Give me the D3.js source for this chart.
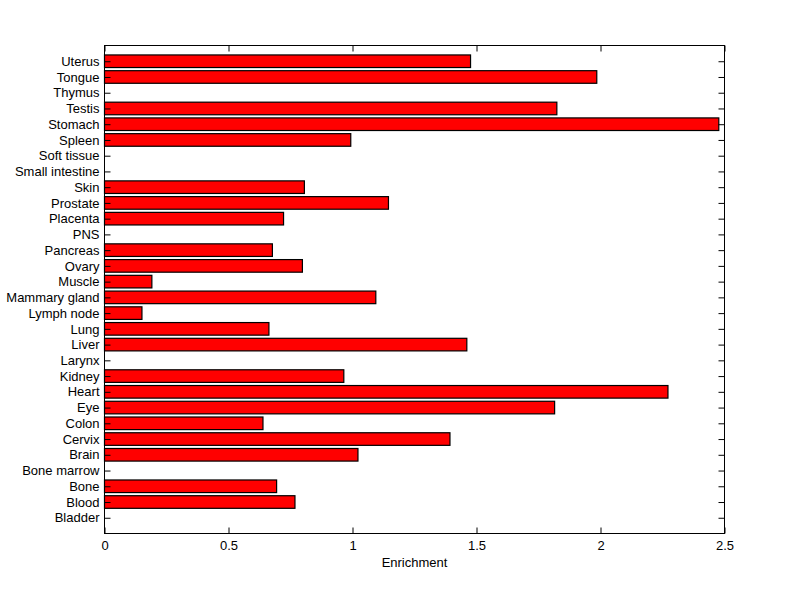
<!DOCTYPE html>
<html><head><meta charset="utf-8">
<script src="https://cdn.jsdelivr.net/npm/d3@7"></script>
<style>body{margin:0;background:#fff}svg{display:block}text{font-family:"Liberation Sans",Arial,sans-serif;font-size:13px;fill:#000}</style>
</head><body>
<svg id="c" width="800" height="599"></svg>
<script>
const categories = ["Bladder","Blood","Bone","Bone marrow","Brain","Cervix","Colon","Eye","Heart","Kidney","Larynx","Liver","Lung","Lymph node","Mammary gland","Muscle","Ovary","Pancreas","PNS","Placenta","Prostate","Skin","Small intestine","Soft tissue","Spleen","Stomach","Testis","Thymus","Tongue","Uterus"];
const values = [0,0.768,0.694,0,1.022,1.393,0.639,1.815,2.272,0.965,0,1.461,0.663,0.151,1.094,0.191,0.798,0.677,0,0.722,1.145,0.806,0,0,0.993,2.477,1.824,0,1.985,1.476];
const xTicks = [0,0.5,1,1.5,2,2.5];
const xLabel = "Enrichment";

const svg = d3.select("#c");
const L=104.5, R=724.5, T=45.5, B=533.5;
const x = d3.scaleLinear().domain([0,2.5]).range([L,R]);
const y = d3.scaleLinear().domain([0,categories.length+1]).range([B,T]);
const bw = 0.8*(y(0)-y(1));
const tl = 6;
const FONT = '"Liberation Sans",Arial,sans-serif';

const barData = values.map((v,i)=>({v,pos:i+1})).filter(d=>d.v>0);
svg.append("g").selectAll("rect").data(barData).join("rect")
  .attr("x",x(0)).attr("y",d=>y(d.pos)-bw/2)
  .attr("width",d=>x(d.v)-x(0)).attr("height",bw)
  .attr("fill","#ff0000").attr("stroke","#000").attr("stroke-width",1.2);

const bAx = svg.append("g").attr("transform",`translate(0,${B})`)
  .call(d3.axisBottom(x).tickValues(xTicks).tickFormat(d3.format("")).tickSize(-tl).tickPadding(12));
const tAx = svg.append("g").attr("transform",`translate(0,${T})`)
  .call(d3.axisTop(x).tickValues(xTicks).tickFormat("").tickSize(-tl));
const yTickVals = d3.range(1,categories.length+1);
const lAx = svg.append("g").attr("transform",`translate(${L},0)`)
  .call(d3.axisLeft(y).tickValues(yTickVals).tickFormat(d=>categories[d-1]).tickSize(-tl).tickPadding(5));
const rAx = svg.append("g").attr("transform",`translate(${R},0)`)
  .call(d3.axisRight(y).tickValues(yTickVals).tickFormat("").tickSize(-tl));
[bAx,tAx,lAx,rAx].forEach(g=>{
  g.select(".domain").remove();
  g.selectAll("line").attr("stroke","#000");
  g.selectAll("text").attr("font-family",null).attr("font-size",null).style("font-family",FONT).style("font-size","13px").attr("fill","#000");
});
bAx.selectAll(".tick text").attr("dy","0.35em").attr("y",12);
svg.append("rect").attr("x",L).attr("y",T).attr("width",R-L).attr("height",B-T)
  .attr("fill","none").attr("stroke","#000").attr("stroke-width",1);

svg.append("text").attr("x",(L+R)/2).attr("y",567).attr("text-anchor","middle").text(xLabel);
</script>
</body></html>
